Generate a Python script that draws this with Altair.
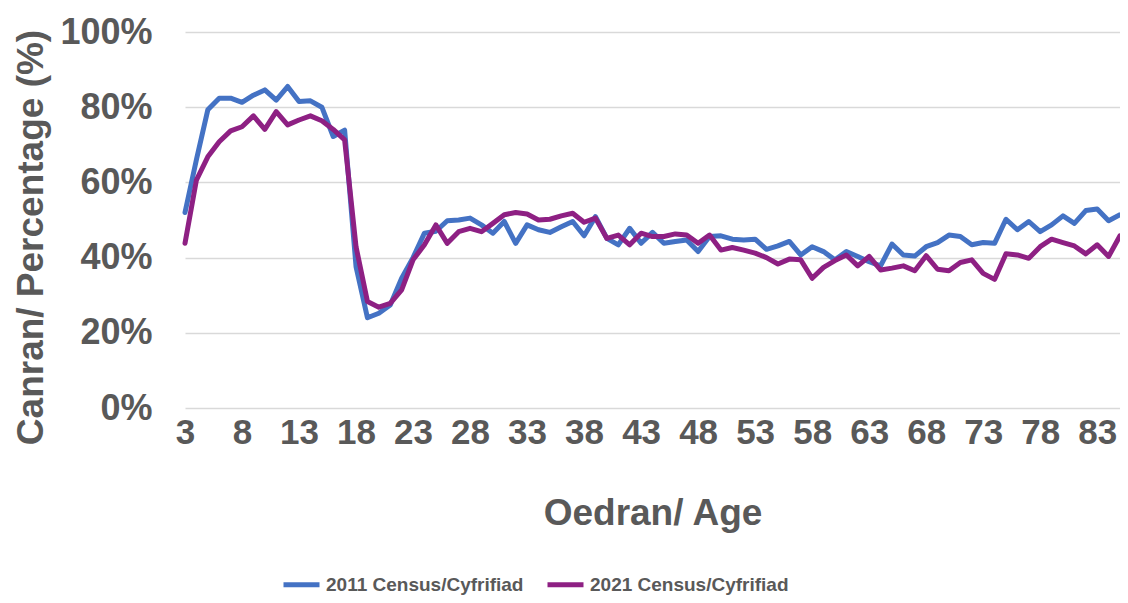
import altair as alt
import pandas as pd

ages = list(range(3, 86))

census_2011 = [
    52.0, 66.0, 79.3, 82.4, 82.4, 81.3, 83.2, 84.6, 81.9, 85.5,
    81.5, 81.7, 80.0, 72.2, 73.9, 37.6, 24.0, 25.2, 27.4, 34.5,
    40.0, 46.5, 47.0, 49.8, 50.0, 50.5, 48.7, 46.5, 49.6, 43.8,
    48.7, 47.4, 46.7, 48.2, 49.6, 45.8, 50.9, 45.1, 43.4, 47.8,
    43.8, 46.7, 43.8, 44.3, 44.7, 41.6, 45.6, 45.8, 44.9, 44.7,
    44.9, 42.2, 43.1, 44.3, 40.7, 42.9, 41.6, 39.4, 41.6, 40.3,
    38.9, 37.8, 43.6, 40.7, 40.4, 42.9, 44.0, 46.0, 45.6, 43.4,
    44.0, 43.8, 50.2, 47.4, 49.6, 46.9, 48.7, 51.1, 49.1, 52.5,
    52.9, 49.8, 51.4,
]

census_2021 = [
    43.8, 60.6, 66.8, 70.8, 73.7, 74.8, 77.7, 74.1, 78.8, 75.3,
    76.6, 77.7, 76.4, 74.1, 71.3, 42.9, 28.3, 26.8, 27.8, 31.4,
    39.4, 43.4, 48.7, 43.8, 46.9, 47.8, 46.9, 49.1, 51.4, 52.0,
    51.6, 50.0, 50.2, 51.1, 51.8, 49.4, 50.5, 45.1, 46.0, 43.4,
    46.5, 45.6, 45.6, 46.3, 46.0, 43.8, 46.0, 42.0, 42.7, 42.0,
    41.2, 40.0, 38.3, 39.6, 39.4, 34.5, 37.4, 39.2, 40.7, 37.8,
    40.3, 36.7, 37.2, 37.8, 36.5, 40.5, 36.9, 36.5, 38.7, 39.4,
    35.8, 34.2, 41.0, 40.7, 39.8, 42.9, 44.9, 44.0, 43.1, 41.0,
    43.4, 40.3, 45.8,
]

series_names = ["2011 Census/Cyfrifiad", "2021 Census/Cyfrifiad"]
series_colors = ["#4472C4", "#8E2083"]
x_ticks = list(range(3, 84, 5))
y_ticks = [0, 0.2, 0.4, 0.6, 0.8, 1.0]

rows = []
for name, vals in zip(series_names, [census_2011, census_2021]):
    for a, v in zip(ages, vals):
        rows.append({"age": a, "pct": v / 100.0, "series": name})
df = pd.DataFrame(rows)

FONT = "Liberation Sans"
GREY = "#595959"

chart = (
    alt.Chart(df)
    .mark_line(strokeWidth=5, strokeCap="round", strokeJoin="round")
    .encode(
        x=alt.X(
            "age:Q",
            scale=alt.Scale(domain=[3, 85], nice=False, zero=False),
            axis=alt.Axis(
                values=x_ticks,
                title="Oedran/ Age",
                grid=False,
                domain=False,
                ticks=False,
                labelPadding=7,
                labelFont=FONT,
                labelFontSize=35,
                labelFontWeight="bold",
                labelColor=GREY,
                labelFlush=False,
                labelOverlap=False,
                titleFont=FONT,
                titleFontSize=37,
                titleFontWeight="bold",
                titleColor=GREY,
                titleBaseline="alphabetic",
                titleY=116,
            ),
        ),
        y=alt.Y(
            "pct:Q",
            scale=alt.Scale(domain=[0, 1], nice=False),
            axis=alt.Axis(
                values=y_ticks,
                format=".0%",
                title="Canran/ Percentage (%)",
                grid=True,
                gridColor="#D9D9D9",
                gridWidth=1.5,
                domain=False,
                ticks=False,
                labelPadding=33,
                labelFont=FONT,
                labelFontSize=36,
                labelFontWeight="bold",
                labelColor=GREY,
                labelFlush=False,
                titleFont=FONT,
                titleFontSize=37,
                titleFontWeight="bold",
                titleColor=GREY,
                titleAngle=-90,
                titleAlign="center",
                titleBaseline="alphabetic",
                titleX=-143,
                titleY=205,
            ),
        ),
        color=alt.Color(
            "series:N",
            scale=alt.Scale(domain=series_names, range=series_colors),
            legend=alt.Legend(
                title=None,
                orient="none",
                legendX=96,
                legendY=532,
                direction="horizontal",
                symbolType="stroke",
                symbolSize=1296,
                symbolStrokeWidth=5,
                labelFont=FONT,
                labelFontSize=19,
                labelFontWeight="bold",
                labelColor=GREY,
                labelOffset=4,
                columnPadding=13,
                labelLimit=400,
            ),
        ),
    )
    .properties(
        width=935,
        height=376,
        padding={"left": 177, "top": 24, "right": 0, "bottom": 187},
        autosize=alt.AutoSizeParams(type="none"),
    )
    .configure_view(stroke=None)
)

chart.save("out.html", embed_options={"renderer": "svg", "actions": False})
